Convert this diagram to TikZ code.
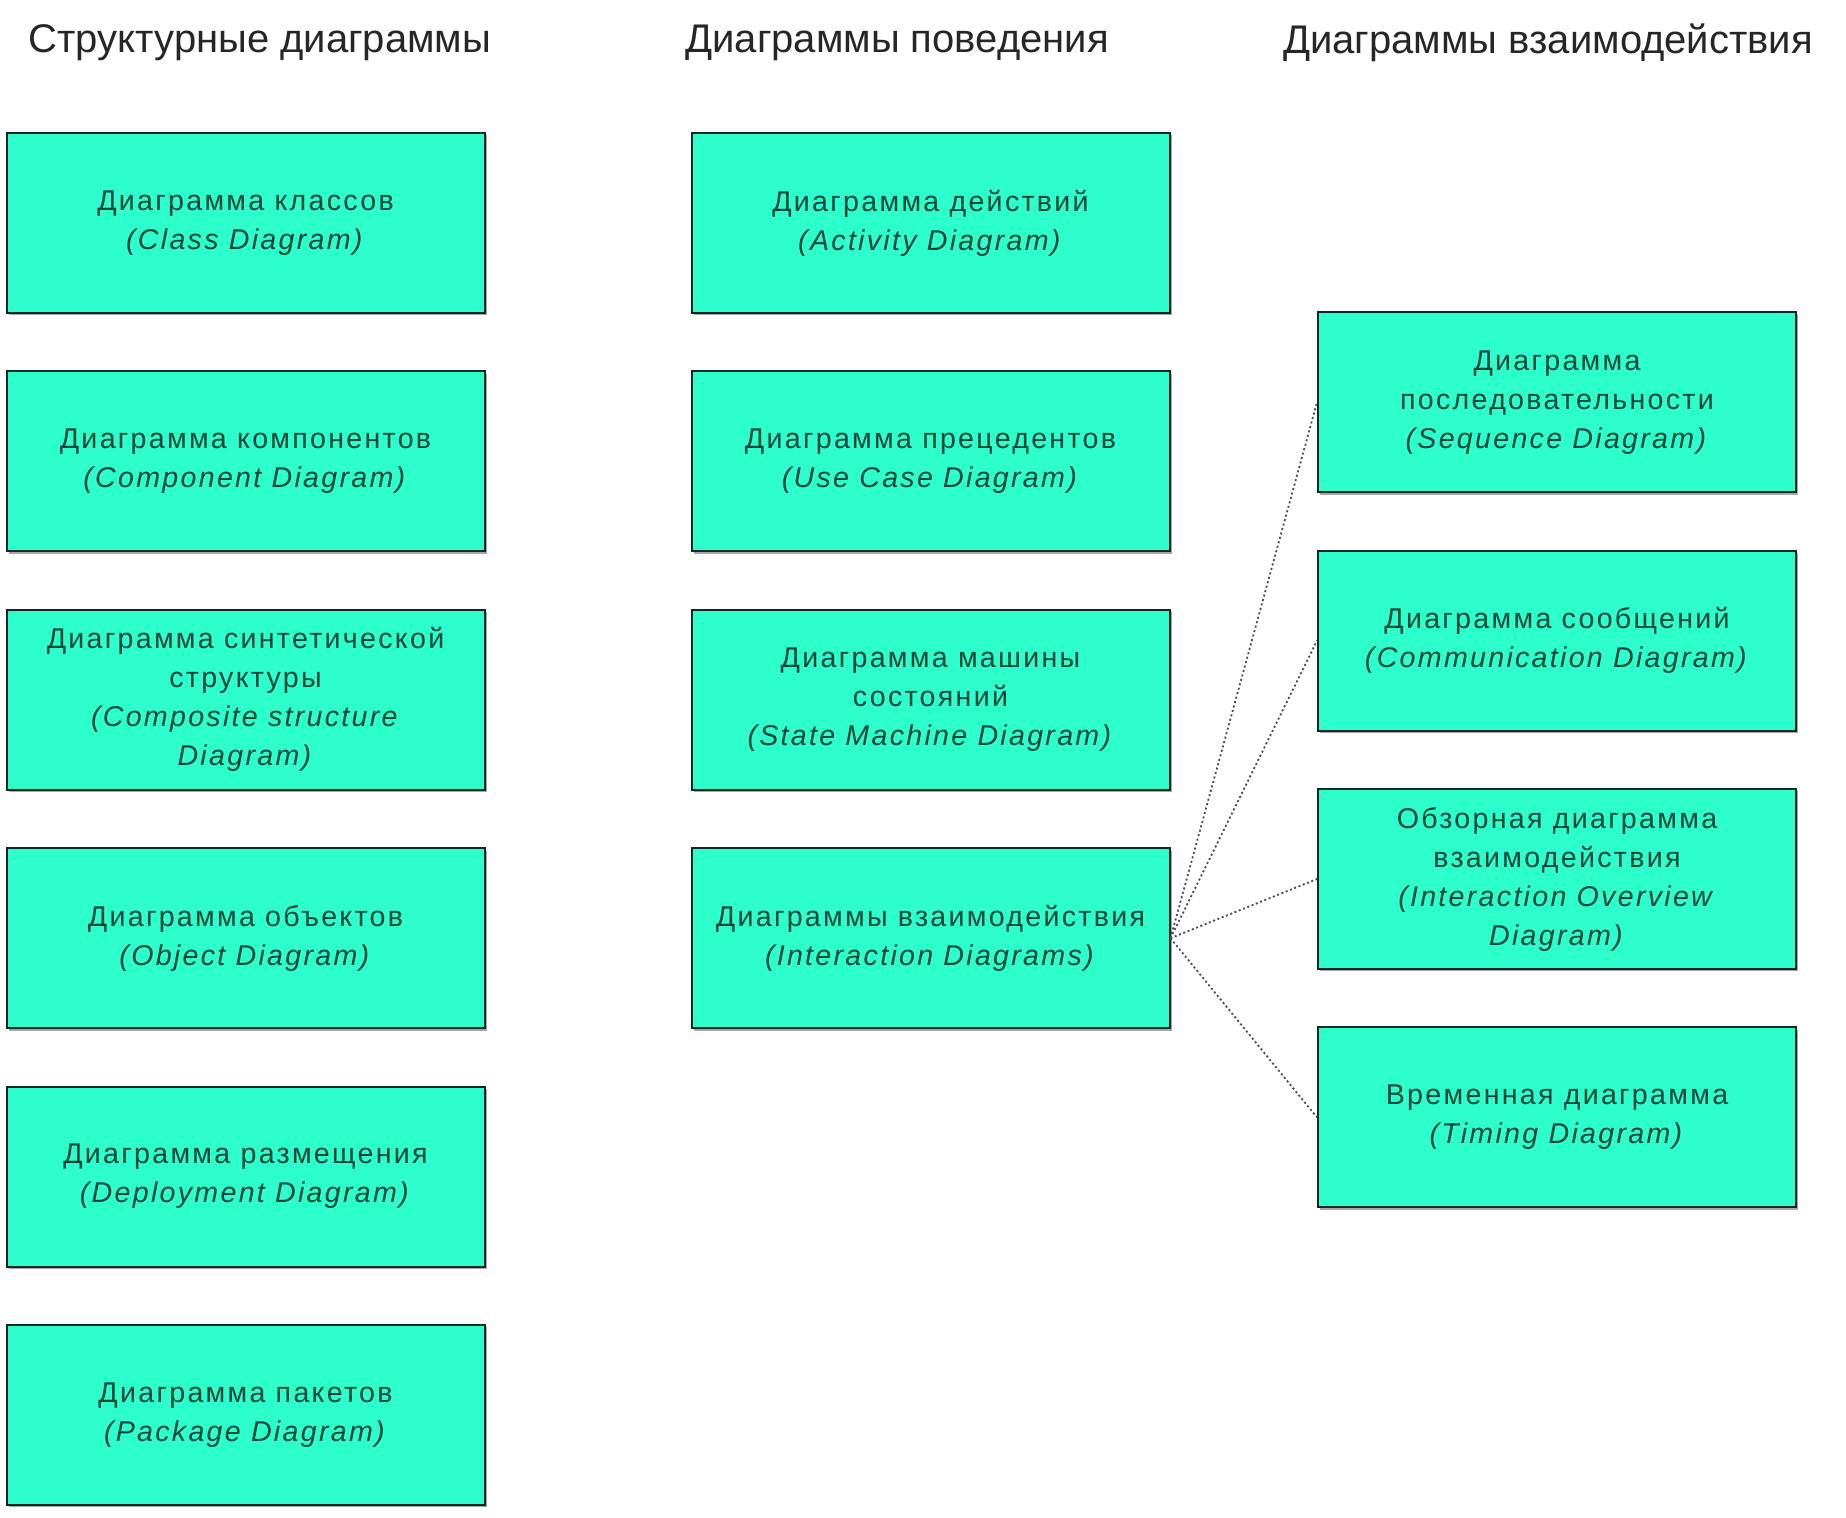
\documentclass[tikz,border=0pt]{standalone}
\usepackage{fontspec}
\setmainfont{Liberation Sans}
\newfontfamily\boxfont{Liberation Sans}[LetterSpace=8]
\usetikzlibrary{shadows}

\definecolor{uml fill}{RGB}{44,255,204}
\definecolor{uml text}{RGB}{8,70,55}
\definecolor{uml line}{RGB}{16,40,34}

\begin{document}
\begin{tikzpicture}[x=0.5pt, y=-0.5pt]
  % \draw[help lines] (0,0) grid (1846,1518);

  \tikzset{uml node/.style={rectangle,draw=uml line,line width=1pt,fill=uml fill,
      text=uml text,align=center,minimum width=239pt,minimum height=90pt,
      font=\boxfont\fontsize{14.3}{19.5}\selectfont,
      drop shadow={shadow xshift=1.2pt,shadow yshift=-1.2pt,fill=black!35,opacity=1}}}
  \tikzset{head node/.style={draw=none,text=black!85,font=\fontsize{20}{24}\selectfont}}
  \tikzset{link/.style={dash pattern=on 1pt off 1.3pt,line width=0.9pt,black!70}}

  \useasboundingbox (0,0) rectangle (1846,1518);

  \path
    (260, 43)  node[head node](hs) {Структурные диаграммы}
    (897, 43)  node[head node](hb) {Диаграммы поведения}
    (1548, 43) node[head node](hi) {Диаграммы взаимодействия}
  ;

  \path
    (245.5, 223)   node[uml node](cls) {Диаграмма классов\\ \textit{(Class Diagram)}}
    (245.5, 461.4) node[uml node](cmp) {Диаграмма компонентов\\ \textit{(Component Diagram)}}
    (245.5, 699.8) node[uml node](cst) {Диаграмма синтетической\\ структуры\\ \textit{(Composite structure}\\ \textit{Diagram)}}
    (245.5, 938.2) node[uml node](obj) {Диаграмма объектов\\ \textit{(Object Diagram)}}
    (245.5, 1176.6) node[uml node](dpl) {Диаграмма размещения\\ \textit{(Deployment Diagram)}}
    (245.5, 1415)  node[uml node](pkg) {Диаграмма пакетов\\ \textit{(Package Diagram)}}
  ;

  \path
    (930.5, 223)   node[uml node](act) {Диаграмма действий\\ \textit{(Activity Diagram)}}
    (930.5, 461.4) node[uml node](use) {Диаграмма прецедентов\\ \textit{(Use Case Diagram)}}
    (930.5, 699.8) node[uml node](stm) {Диаграмма машины\\ состояний\\ \textit{(State Machine Diagram)}}
    (930.5, 938.2) node[uml node](itr) {Диаграммы взаимодействия\\ \textit{(Interaction Diagrams)}}
  ;

  \path
    (1557, 402.2)  node[uml node](seq) {Диаграмма\\ последовательности\\ \textit{(Sequence Diagram)}}
    (1557, 640.6)  node[uml node](com) {Диаграмма сообщений\\ \textit{(Communication Diagram)}}
    (1557, 879)    node[uml node](ovw) {Обзорная диаграмма\\ взаимодействия\\ \textit{(Interaction Overview}\\ \textit{Diagram)}}
    (1557, 1117.4) node[uml node](tim) {Временная диаграмма\\ \textit{(Timing Diagram)}}
  ;

  \draw[link] (itr.east) -- (seq.west);
  \draw[link] (itr.east) -- (com.west);
  \draw[link] (itr.east) -- (ovw.west);
  \draw[link] (itr.east) -- (tim.west);

\end{tikzpicture}
\end{document}
